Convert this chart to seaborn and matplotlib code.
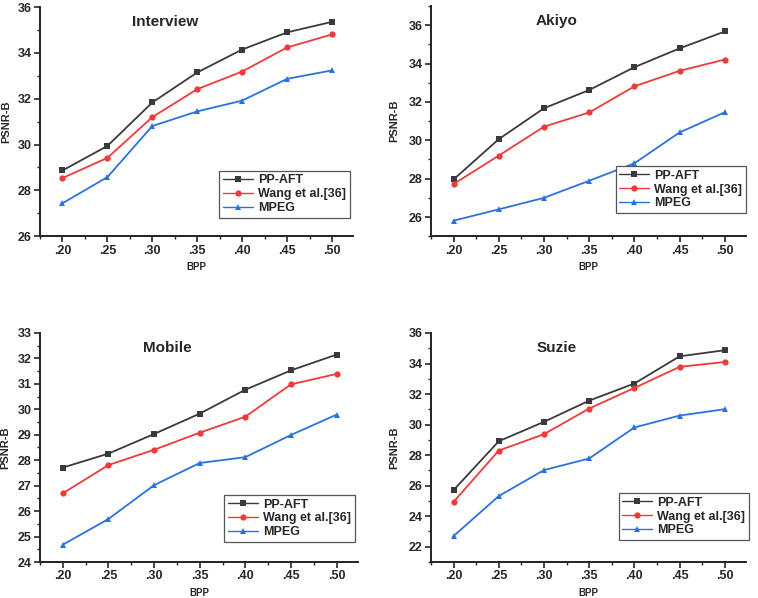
import seaborn as sns
import matplotlib.pyplot as plt
from matplotlib.ticker import MultipleLocator, AutoMinorLocator
import pandas as pd

# bit rate (BPP) values and tick labels
bpp = [0.20, 0.25, 0.30, 0.35, 0.40, 0.45, 0.50]
bpp_labels = ['.20', '.25', '.30', '.35', '.40', '.45', '.50']
methods = ['PP-AFT', 'Wang et al.[36]', 'MPEG']

# PSNR-B values
interview_ppaft = [28.87, 29.94, 31.84, 33.15, 34.15, 34.90, 35.36]
interview_wang = [28.54, 29.42, 31.20, 32.42, 33.19, 34.24, 34.81]
interview_mpeg = [27.44, 28.58, 30.81, 31.45, 31.92, 32.87, 33.24]

akiyo_ppaft = [27.96, 30.06, 31.67, 32.62, 33.81, 34.79, 35.67]
akiyo_wang = [27.72, 29.20, 30.71, 31.45, 32.81, 33.62, 34.21]
akiyo_mpeg = [25.81, 26.40, 27.00, 27.89, 28.80, 30.41, 31.46]

mobile_ppaft = [27.71, 28.26, 29.03, 29.83, 30.77, 31.53, 32.15]
mobile_wang = [26.70, 27.81, 28.41, 29.08, 29.71, 30.98, 31.39]
mobile_mpeg = [24.68, 25.69, 27.02, 27.89, 28.12, 28.99, 29.79]

suzie_ppaft = [25.71, 28.91, 30.18, 31.57, 32.69, 34.47, 34.87]
suzie_wang = [24.94, 28.30, 29.37, 31.05, 32.40, 33.78, 34.10]
suzie_mpeg = [22.70, 25.32, 27.02, 27.78, 29.81, 30.59, 31.01]

sns.set_style('ticks')
plt.rcParams['font.family'] = ['Liberation Sans', 'DejaVu Sans']
plt.rcParams['font.weight'] = 'bold'

palette = {'PP-AFT': '#3a3a3a', 'Wang et al.[36]': '#f03a3a', 'MPEG': '#2a72e0'}
marks = {'PP-AFT': 's', 'Wang et al.[36]': 'o', 'MPEG': '^'}

# title, series, y limits, y step, axes rect, legend anchor, ylabel x
panels = [
    ('Interview', [interview_ppaft, interview_wang, interview_mpeg], (26, 36), 2,
     [0.0528, 0.605, 0.413, 0.383], (0.99, 0.08), -0.093),
    ('Akiyo', [akiyo_ppaft, akiyo_wang, akiyo_mpeg], (25, 37), 2,
     [0.5686, 0.605, 0.4156, 0.385], (1.0, 0.10), -0.10),
    ('Mobile', [mobile_ppaft, mobile_wang, mobile_mpeg], (24, 33), 1,
     [0.0528, 0.0602, 0.4195, 0.383], (0.99, 0.087), -0.093),
    ('Suzie', [suzie_ppaft, suzie_wang, suzie_mpeg], (21, 36), 2,
     [0.5686, 0.0602, 0.4156, 0.383], (1.01, 0.095), -0.10),
]

fig = plt.figure(figsize=(7.58, 5.98), dpi=100)

for title, series, ylim, ystep, pos, leg_anchor, ylab_x in panels:
    rows = []
    for m, vals in zip(methods, series):
        for x, v in zip(bpp, vals):
            rows.append({'BPP': x, 'PSNR-B': v, 'method': m})
    df = pd.DataFrame(rows)

    ax = fig.add_axes(pos)
    sns.lineplot(data=df, x='BPP', y='PSNR-B', hue='method', style='method',
                 markers=marks, dashes=False, palette=palette, ax=ax,
                 linewidth=1.3, markersize=4.5, markeredgewidth=0)

    ax.set_xlim(0.175, 0.5235)
    ax.set_ylim(*ylim)
    ax.set_xticks(bpp)
    ax.set_xticklabels(bpp_labels)
    ax.yaxis.set_major_locator(MultipleLocator(ystep))
    ax.yaxis.set_minor_locator(AutoMinorLocator(2))
    ax.xaxis.set_minor_locator(AutoMinorLocator(2))
    ax.tick_params(axis='both', which='major', labelsize=9, width=1.2,
                   length=4, pad=2)
    ax.tick_params(axis='both', which='minor', width=1.0, length=2.5)
    for lab in ax.get_xticklabels() + ax.get_yticklabels():
        lab.set_fontweight('bold')

    sns.despine(ax=ax)
    for s in ['left', 'bottom']:
        ax.spines[s].set_linewidth(1.4)
        ax.spines[s].set_color('#222222')

    ax.set_xlabel('BPP', fontsize=7, fontweight='bold', labelpad=4)
    ax.set_ylabel('PSNR-B', fontsize=8, fontweight='bold')
    ax.yaxis.set_label_coords(ylab_x, 0.5)
    ax.text(0.4, 0.935, title, transform=ax.transAxes, ha='center', va='center',
            fontsize=11, fontweight='bold')

    leg = ax.legend(loc='lower right', bbox_to_anchor=leg_anchor, borderaxespad=0,
                    fancybox=False, framealpha=1, edgecolor='#555555',
                    prop={'size': 9, 'weight': 'bold'}, handlelength=2.4,
                    labelspacing=0.15, borderpad=0.3, handletextpad=0.4)
    leg.get_frame().set_linewidth(0.9)
    for h in leg.get_lines():
        h.set_linewidth(1.0)

plt.savefig('out.png', dpi=100)
